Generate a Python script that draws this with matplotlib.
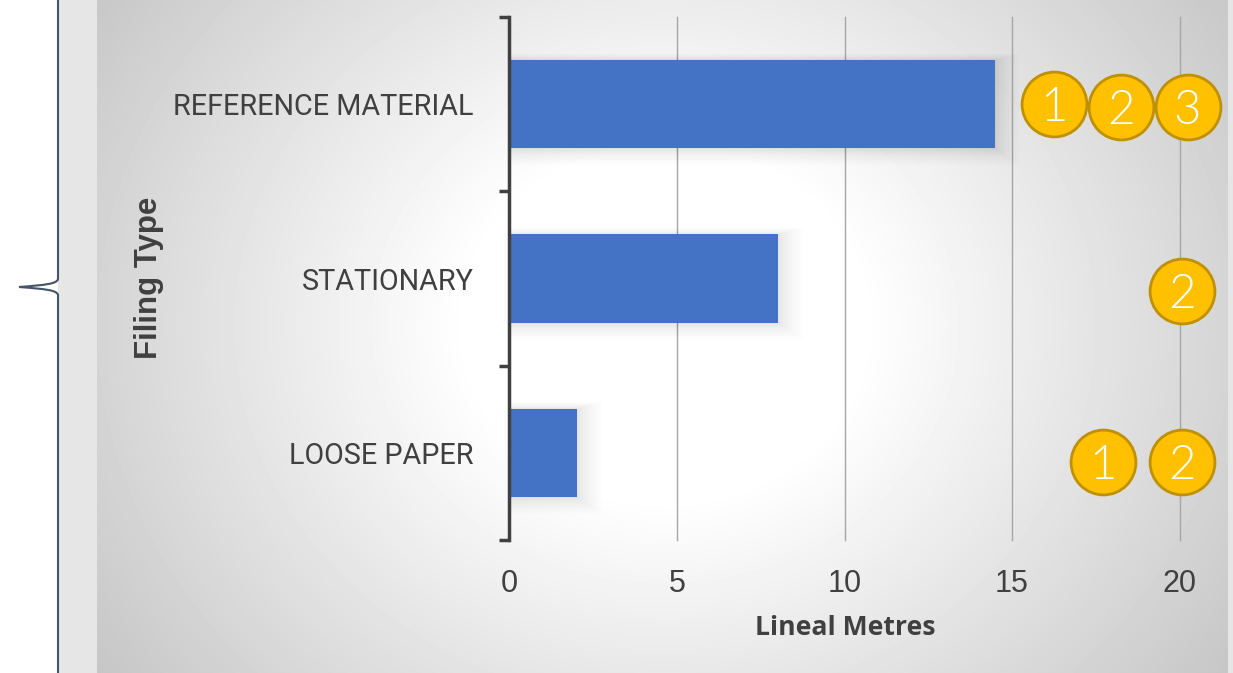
import matplotlib
matplotlib.use("Agg")
import matplotlib.pyplot as plt
import numpy as np
from matplotlib.path import Path
from matplotlib.patches import PathPatch, Rectangle

categories = ["LOOSE PAPER", "STATIONARY", "REFERENCE MATERIAL"]
lineal_metres = [2, 8, 14.5]
x_ticks = [0, 5, 10, 15, 20]

# numbered badges to the right of the bars (x in metres, y in category rows)
badge_x = [16.24, 18.24, 20.24, 20.06, 17.72, 20.06]
badge_y = [2.0, 1.985, 1.985, 0.93, -0.05, -0.05]
badge_labels = ["1", "2", "3", "2", "1", "2"]

W, H = 1233, 673
fig = plt.figure(figsize=(W / 100, H / 100), dpi=100)

# page background, in pixel coordinates
bg = fig.add_axes([0, 0, 1, 1])
bg.add_patch(Rectangle((58, 0), W - 58, H, color="#e6e6e6", lw=0, zorder=1))

xx, yy = np.meshgrid(np.arange(97, 1228) + 0.5, np.arange(H) + 0.5)
r = np.sqrt(((xx - 665) / 568) ** 2 + ((yy - 325) / 500) ** 2)
shade = np.clip(255 - 66 * np.clip(r - 0.35, 0, None), 0, 255) / 255
bg.imshow(shade, cmap="gray", vmin=0, vmax=1, extent=(97, 1228, H, 0), aspect="auto",
          interpolation="bilinear", zorder=2)
bg.set_xlim(0, W)
bg.set_ylim(H, 0)
bg.axis("off")

# curly brace on the left
brace = Path(
    [(58, 0), (58, 279), (57, 284), (45, 285), (19, 287), (45, 289), (57, 290), (58, 295), (58, H)],
    [Path.MOVETO, Path.LINETO, Path.CURVE4, Path.CURVE4, Path.CURVE4, Path.CURVE4, Path.CURVE4,
     Path.CURVE4, Path.LINETO],
)
bg.add_patch(PathPatch(brace, fc="none", ec="#44546a", lw=1.5, zorder=3))

# chart
left, right, top, bottom = 509.5, 1179.5, 17, 540
ax = fig.add_axes([left / W, 1 - bottom / H, (right - left) / W, (bottom - top) / H])
ax.patch.set_visible(False)
ax.set_xlim(0, 20)
ax.set_ylim(-0.5, 2.5)

y_pos = np.arange(len(categories))
bar_h = 0.505

# soft shadow behind the bars, denser close to the bar
for grow in np.linspace(1, 0.08, 16) ** 2 * 0.75:
    for y, v in zip(y_pos, lineal_metres):
        ax.add_patch(Rectangle((0, y - bar_h / 2 - grow * 0.13), v + grow, bar_h + grow * 0.18,
                               color="black", alpha=0.006, lw=0, zorder=1))

ax.barh(y_pos, lineal_metres, height=bar_h, color="#4472c4", zorder=2)

ax.set_xticks(x_ticks)
ax.grid(axis="x", color="#a6a6a6", lw=1.0, zorder=0)
for line in ax.get_xgridlines():
    line.set_clip_on(False)
ax.set_axisbelow(True)
ax.tick_params(axis="x", length=0, pad=21, labelsize=22, labelcolor="#404040")
for lab in ax.get_xticklabels():
    lab.set_fontfamily("Liberation Sans")

ax.set_yticks(np.arange(-0.5, 3, 1))
ax.set_yticklabels([])
ax.tick_params(axis="y", which="major", length=7, width=2.5, color="#404040")
ax.set_yticks(y_pos, minor=True)
ax.set_yticklabels(categories, minor=True, fontfamily="Roboto", fontsize=20.7, color="#404040")
ax.tick_params(axis="y", which="minor", length=0, pad=26)

for s in ["top", "right", "bottom"]:
    ax.spines[s].set_visible(False)
ax.spines["left"].set_color("#404040")
ax.spines["left"].set_linewidth(2.5)

ax.scatter(badge_x, badge_y, s=2180, color="#ffc000", edgecolor="#bf9000", linewidth=2,
           zorder=5, clip_on=False)
for x, y, t in zip(badge_x, badge_y, badge_labels):
    ax.text(x, y, t, ha="center", va="center_baseline", color="white", fontsize=34,
            fontfamily="Lato", fontweight=300, zorder=6, clip_on=False)

bg.text(149, 278, "Filing Type", rotation=90, ha="center", va="center", fontsize=22.5,
        fontweight="bold", fontfamily="Liberation Sans", color="#404040", zorder=4)
bg.text(845, 628, "Lineal Metres", ha="center", va="center", fontsize=19.2,
        fontweight="bold", fontfamily="Open Sans", color="#404040", zorder=4)

fig.savefig("out.png", dpi=100)
